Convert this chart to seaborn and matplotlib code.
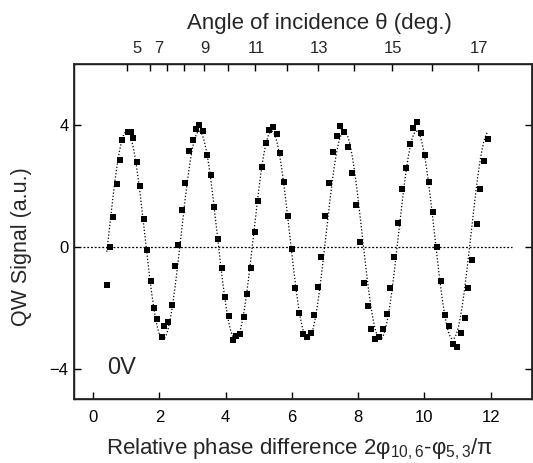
import numpy as np
import pandas as pd
import matplotlib
matplotlib.use("Agg")
import matplotlib.pyplot as plt
import seaborn as sns

phase = [0.41, 0.51, 0.61, 0.71, 0.80, 0.87, 1.04, 1.13, 1.21, 1.31,
         1.42, 1.53, 1.63, 1.74, 1.84, 1.94, 2.07, 2.15, 2.26, 2.37,
         2.47, 2.57, 2.68, 2.78, 2.90, 3.00, 3.10, 3.20, 3.32, 3.43,
         3.55, 3.66, 3.77, 3.88, 3.99, 4.11, 4.21, 4.32, 4.43, 4.54,
         4.65, 4.76, 4.88, 4.98, 5.09, 5.21, 5.32, 5.42, 5.54, 5.65,
         5.76, 5.88, 5.99, 6.10, 6.22, 6.33, 6.45, 6.57, 6.68, 6.79,
         6.89, 7.01, 7.13, 7.24, 7.35, 7.46, 7.58, 7.69, 7.81, 7.94,
         8.05, 8.17, 8.29, 8.40, 8.52, 8.64, 8.75, 8.86, 8.97, 9.08,
         9.21, 9.33, 9.44, 9.56, 9.67, 9.78, 9.91, 10.02, 10.14, 10.26,
         10.38, 10.50, 10.62, 10.75, 10.87, 10.99, 11.10, 11.22, 11.33, 11.45,
         11.58, 11.69, 11.80, 11.92]
signal = [-1.27, -0.01, 0.97, 2.06, 2.85, 3.52, 3.78, 3.78, 3.58, 2.78,
          1.98, 0.90, -0.12, -1.12, -2.00, -2.37, -2.95, -2.61, -2.48, -1.92,
          -0.64, 0.05, 1.20, 2.10, 3.13, 3.52, 3.87, 4.00, 3.79, 3.01,
          2.37, 1.30, 0.26, -0.70, -1.64, -2.28, -3.05, -2.94, -2.87, -2.32,
          -1.55, -0.71, 0.48, 1.50, 2.63, 3.40, 3.84, 3.92, 3.70, 3.09,
          2.14, 1.01, -0.08, -1.36, -2.18, -2.85, -2.97, -2.84, -2.25, -1.33,
          -0.34, 1.00, 2.10, 3.11, 3.62, 3.95, 3.77, 3.29, 2.43, 1.37,
          0.15, -1.18, -1.95, -2.70, -3.03, -2.96, -2.70, -2.22, -1.37, -0.34,
          0.79, 1.88, 2.60, 3.36, 3.90, 4.09, 3.74, 3.00, 2.14, 1.15,
          0.00, -1.11, -2.25, -2.59, -3.19, -3.28, -2.83, -2.34, -1.35, -0.42,
          0.73, 1.91, 2.83, 3.55]

phase_ticks = [0, 2, 4, 6, 8, 10, 12]
signal_ticks = [-4, 0, 4]

# top axis: angle of incidence, marks at every degree (positions in phase units)
angle_tick_pos = [1.01, 1.33, 1.73, 2.22, 2.74, 3.34, 4.06, 4.90, 5.84, 6.78,
                  7.88, 9.02, 10.22, 11.63]
angle_labels = ["5", "7", "9", "11", "13", "15", "17"]
angle_label_pos = [1.33, 1.97, 3.37, 4.93, 6.82, 9.05, 11.65]

sns.set_theme(style="ticks")
plt.rcParams["font.family"] = ["Liberation Sans", "DejaVu Sans"]
plt.rcParams["mathtext.fontset"] = "custom"
plt.rcParams["mathtext.rm"] = "Liberation Sans"
plt.rcParams["mathtext.it"] = "Liberation Sans:italic"

df = pd.DataFrame({"phase": phase, "signal": signal})

# sinusoidal fit to the data: scan the frequency, linear least squares for the rest
x = df["phase"].to_numpy()
y = df["signal"].to_numpy()
best = None
for k in np.linspace(2.4, 3.4, 1001):
    A = np.column_stack([np.ones_like(x), np.cos(k * x), np.sin(k * x)])
    coef = np.linalg.lstsq(A, y, rcond=None)[0]
    r = np.sum((A @ coef - y) ** 2)
    if best is None or r < best[0]:
        best = (r, k, coef)
_, k, coef = best
xf = np.linspace(x.min(), x.max(), 800)
fit = pd.DataFrame({"phase": xf,
                    "signal": coef[0] + coef[1] * np.cos(k * xf) + coef[2] * np.sin(k * xf)})

fig = plt.figure(figsize=(5.33, 4.63), dpi=100)
ax = fig.add_axes([0.1388, 0.1382, 0.8593, 0.7236])

ax.hlines(0, -0.3, 12.65, colors="black", linewidth=0.9, linestyles=(0, (1.5, 1.5)))
sns.lineplot(data=fit, x="phase", y="signal", ax=ax, color="black", linewidth=0.9,
             linestyle=(0, (1, 1.6)), sort=False, estimator=None)
sns.scatterplot(data=df, x="phase", y="signal", ax=ax, marker="s", s=18,
                color="black", edgecolor="black", linewidth=0, zorder=3)

ax.set_xlim(-0.58, 13.25)
ax.set_ylim(-5, 6)
ax.set_xticks(phase_ticks)
ax.set_yticks(signal_ticks)
ax.tick_params(direction="in", length=5, width=1, colors="black", labelsize=12,
               right=True, labelright=False)
ax.tick_params(axis="x", pad=8)
ax.tick_params(axis="y", pad=4)
for s in ax.spines.values():
    s.set_linewidth(1)
    s.set_color("black")

ax.set_xlabel(r"Relative phase difference 2φ$_{10,6}$-φ$_{5,3}$/π", fontsize=16, va="baseline")
ax.xaxis.set_label_coords(0.492, -0.166)
ax.set_ylabel("QW Signal (a.u.)", fontsize=15.5)
ax.yaxis.set_label_coords(-0.092, 0.454)
ax.text(0.41, -4.17, "0V", fontsize=17, ha="left", va="baseline")

top = ax.twiny()
top.set_xlim(ax.get_xlim())
top.set_xticks(angle_label_pos)
top.set_xticklabels(angle_labels)
top.set_xticks(angle_tick_pos, minor=True)
top.tick_params(which="major", length=0, labelsize=12, pad=6)
top.tick_params(which="minor", direction="in", length=5, width=1, colors="black")
top.set_xlabel("Angle of incidence θ (deg.)", fontsize=16, va="baseline")
top.xaxis.set_label_coords(0.535, 1.104)

fig.savefig("out.png", dpi=100)
